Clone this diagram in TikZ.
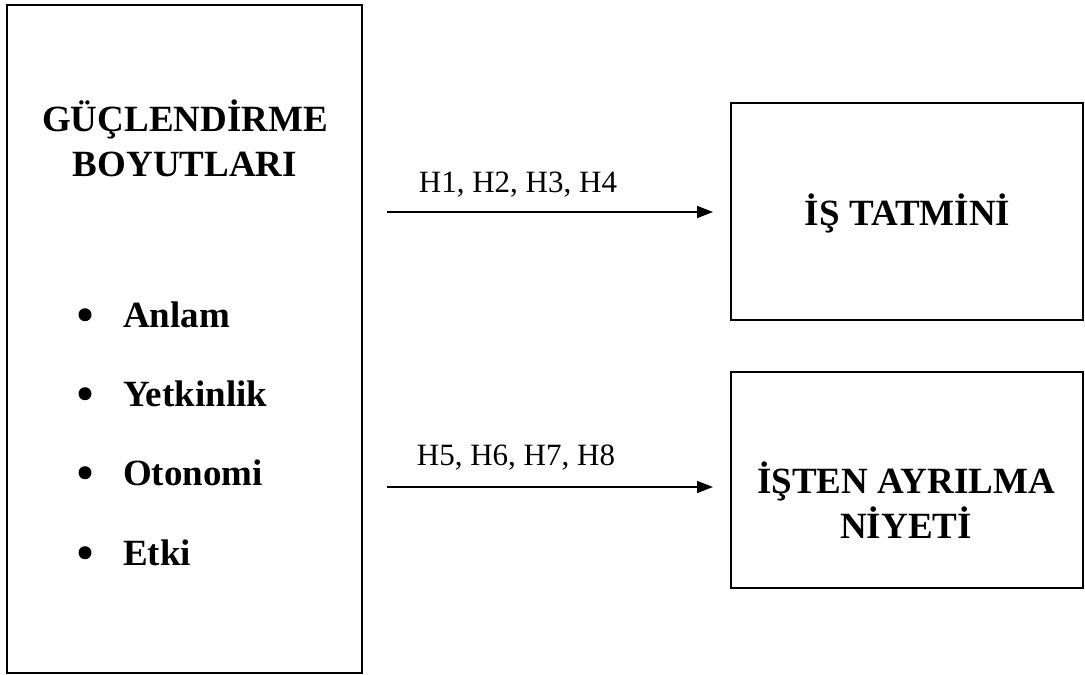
\documentclass[tikz,border=0pt]{standalone}
\usepackage{fontspec}
\setmainfont{Liberation Serif}
\usetikzlibrary{arrows.meta}
\begin{document}
\begin{tikzpicture}[x=1pt,y=-1pt,
  frame/.style={draw, line width=1.6pt, inner sep=0pt},
  heading/.style={font=\fontsize{37}{45}\selectfont\bfseries, align=center, inner sep=0pt},
  hyp/.style={font=\fontsize{31}{36}\selectfont, anchor=base, inner sep=0pt},
  item/.style={font=\fontsize{37}{45}\selectfont\bfseries, anchor=base west, inner sep=0pt},
  bullet/.style={circle, fill, minimum size=13pt, inner sep=0pt},
  link/.style={line width=1.6pt, -{Triangle[length=16pt,width=12pt]}}]
\useasboundingbox (0,0) rectangle (1085,675);

% empowerment dimensions
\node[frame, minimum width=355pt, minimum height=668pt] (dims) at (184.5,339) {};
\node[heading] (dimstitle) at (185,138.5) {GÜÇLENDİRME\\BOYUTLARI};
\node[bullet] (b1) at (85,314.7) {};
\node[item] (i1) at (123,327) {Anlam};
\node[bullet] (b2) at (85,393.7) {};
\node[item] (i2) at (123,406) {Yetkinlik};
\node[bullet] (b3) at (85,472.7) {};
\node[item] (i3) at (123,485) {Otonomi};
\node[bullet] (b4) at (85,552.7) {};
\node[item] (i4) at (123,565) {Etki};

% outcomes
\node[frame, minimum width=352pt, minimum height=217pt] (tatmin) at (907,211.5) {};
\node[heading, anchor=base] (tatmintext) at (907.5,225) {İŞ TATMİNİ};
\node[frame, minimum width=352pt, minimum height=216pt] (niyet) at (907,480) {};
\node[heading] (niyettext) at (906,500) {İŞTEN AYRILMA\\NİYETİ};

% hypothesis links
\coordinate (h1s) at (387,212);
\coordinate (h1e) at (713,212);
\coordinate (h2s) at (387,487);
\coordinate (h2e) at (713,487);
\draw[link] (h1s) -- (h1e);
\draw[link] (h2s) -- (h2e);
\node[hyp] (h1) at (518,192) {H1, H2, H3, H4};
\node[hyp] (h2) at (516,465) {H5, H6, H7, H8};
\end{tikzpicture}
\end{document}
